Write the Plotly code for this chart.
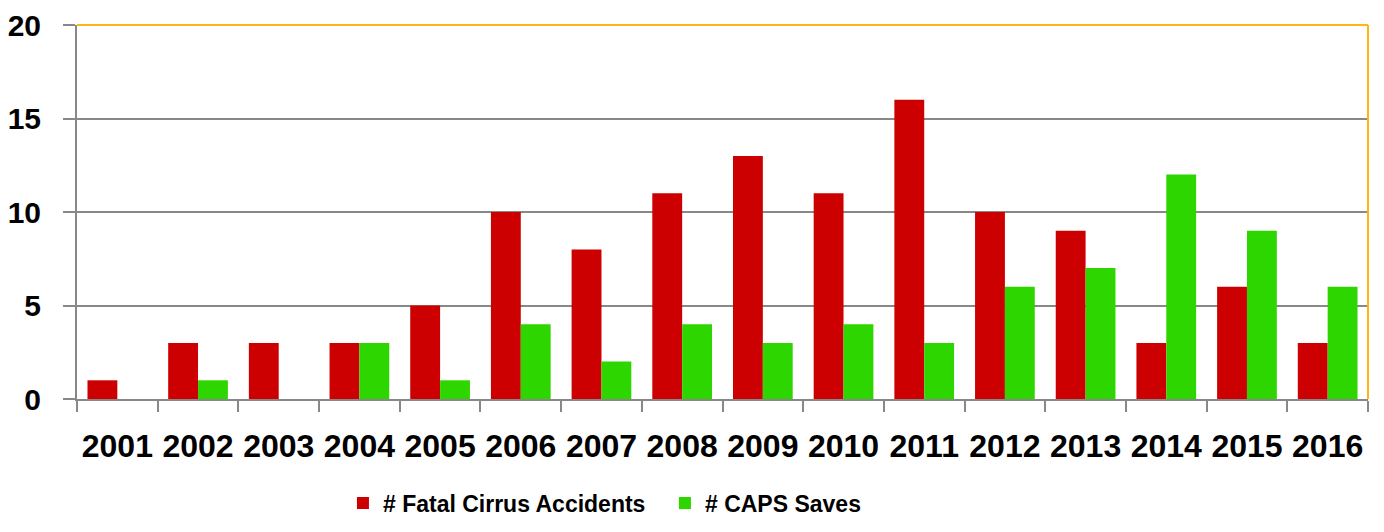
import plotly.graph_objects as go

years = ['2001', '2002', '2003', '2004', '2005', '2006', '2007', '2008',
         '2009', '2010', '2011', '2012', '2013', '2014', '2015', '2016']
fatal_accidents = [1, 3, 3, 3, 5, 10, 8, 11, 13, 11, 16, 10, 9, 3, 6, 3]
caps_saves = [0, 1, 0, 3, 1, 4, 2, 4, 3, 4, 3, 6, 7, 12, 9, 6]

FONT = 'Liberation Sans, Arial, sans-serif'

fig = go.Figure()

fig.add_trace(go.Bar(
    x=years,
    y=fatal_accidents,
    name='# Fatal Cirrus Accidents',
    marker=dict(color='#CC0000', line_width=0),
))

fig.add_trace(go.Bar(
    x=years,
    y=caps_saves,
    name='# CAPS Saves',
    marker=dict(color='#2ED600', line_width=0),
))

# page body has an 8px margin, so the figure is sized/placed to compensate
fig.update_layout(
    width=1368,
    height=516,
    margin=dict(l=69, r=8, t=17, b=125, autoexpand=False),
    barmode='group',
    bargap=0.26,
    bargroupgap=0,
    paper_bgcolor='white',
    plot_bgcolor='white',
    font=dict(family=FONT, color='black'),
    legend=dict(
        orientation='h',
        x=0.206, xanchor='left',
        y=-0.221, yanchor='top',
        font=dict(size=23, family=FONT, weight='bold'),
        itemwidth=30,
        entrywidth=277,
        traceorder='normal',
    ),
    xaxis=dict(
        showline=True, linecolor='#888888', linewidth=2,
        ticks='outside', tickson='boundaries', ticklen=11,
        tickcolor='#888888', tickwidth=2,
        tickangle=0, automargin=False,
        tickfont=dict(size=32, family=FONT, weight='bold'),
        ticklabelstandoff=18,
        showgrid=False,
    ),
    yaxis=dict(
        range=[0, 20], dtick=5,
        showline=True, linecolor='#888888', linewidth=2,
        ticks='outside', ticklen=12, tickcolor='#888888', tickwidth=2,
        showgrid=True, gridcolor='#888888', gridwidth=2,
        zeroline=False, automargin=False,
        tickfont=dict(size=30, family=FONT, weight='bold'),
        ticklabelstandoff=16,
    ),
)

# gold frame on top and right of the plot area
fig.add_shape(type='line', xref='paper', yref='paper', x0=0, x1=1, y0=1, y1=1,
              line=dict(color='#FFB612', width=2))
fig.add_shape(type='line', xref='paper', yref='paper', x0=1, x1=1, y0=0, y1=1,
              line=dict(color='#FFB612', width=2))

fig.write_html("out.html")
